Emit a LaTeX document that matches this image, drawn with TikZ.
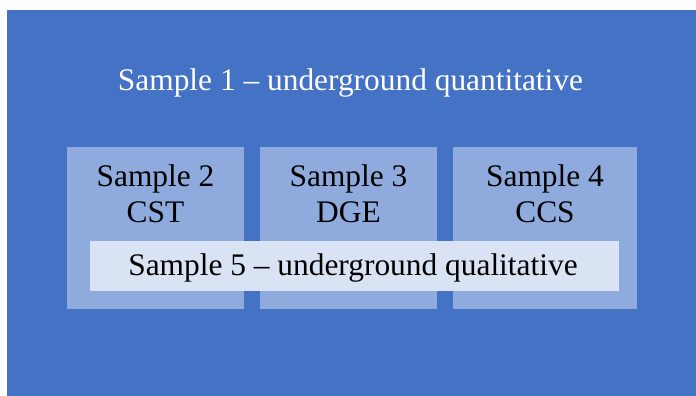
\documentclass[tikz,border=0pt]{standalone}
\usepackage{fontspec}
\setmainfont{Liberation Serif}
\definecolor{outerblue}{HTML}{4472C4}
\definecolor{midblue}{HTML}{8FAADC}
\definecolor{paleblue}{HTML}{DAE3F3}
\begin{document}
\begin{tikzpicture}[x=1pt,y=-1pt,font=\fontsize{31.4}{36}\selectfont,
  lbl/.style={align=center,anchor=base,inner sep=0pt}]
\useasboundingbox (0,0) rectangle (696,396);
\fill[outerblue] (7,10) rectangle (696,396);
\node[lbl,text=white] (s1) at (350.5,91) {Sample 1 -- underground quantitative};
\foreach \n/\xa/\xb/\lab in {2/67/244/CST, 3/260/437/DGE, 4/453/637/CCS}
  {\fill[midblue] (\xa,147) rectangle (\xb,309);
   \node[lbl] (s\n) at ({(\xa+\xb)/2},186) {Sample \n};
   \node[lbl] (c\n) at ({(\xa+\xb)/2},222.7) {\lab};}
\node[fill=paleblue,minimum width=529pt,minimum height=50pt,inner sep=0pt]
  (s5box) at (354.5,266) {};
\node[lbl] (s5) at (353,275.7) {Sample 5 -- underground qualitative};
\end{tikzpicture}
\end{document}
